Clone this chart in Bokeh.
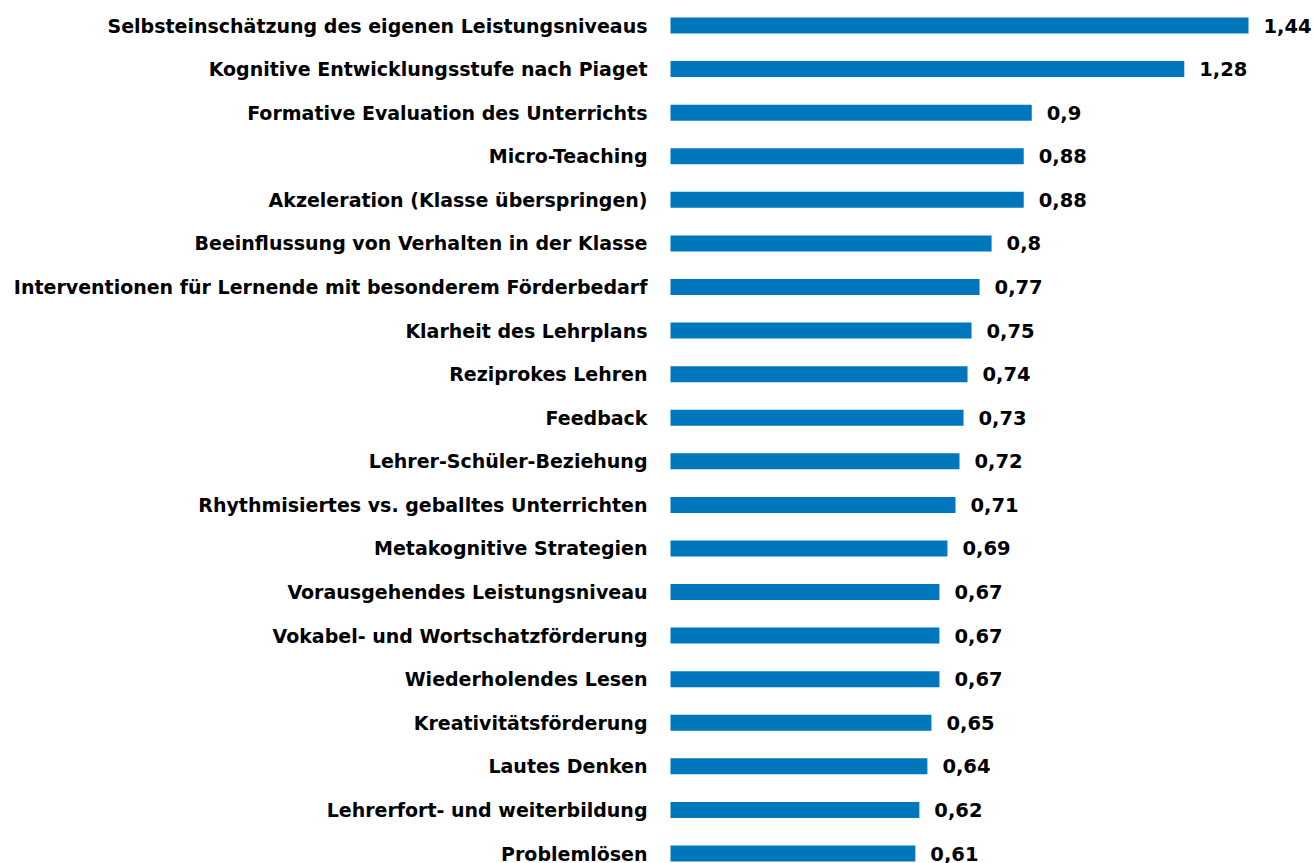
from bokeh.plotting import figure
from bokeh.models import Range1d, ColumnDataSource
from bokeh.core.properties import value
from bokeh.embed import file_html
from bokeh.resources import INLINE

categories = [
    "Selbsteinschätzung des eigenen Leistungsniveaus",
    "Kognitive Entwicklungsstufe nach Piaget",
    "Formative Evaluation des Unterrichts",
    "Micro-Teaching",
    "Akzeleration (Klasse überspringen)",
    "Beeinflussung von Verhalten in der Klasse",
    "Interventionen für Lernende mit besonderem Förderbedarf",
    "Klarheit des Lehrplans",
    "Reziprokes Lehren",
    "Feedback",
    "Lehrer-Schüler-Beziehung",
    "Rhythmisiertes vs. geballtes Unterrichten",
    "Metakognitive Strategien",
    "Vorausgehendes Leistungsniveau",
    "Vokabel- und Wortschatzförderung",
    "Wiederholendes Lesen",
    "Kreativitätsförderung",
    "Lautes Denken",
    "Lehrerfort- und weiterbildung",
    "Problemlösen",
]
values = [1.44, 1.28, 0.9, 0.88, 0.88, 0.8, 0.77, 0.75, 0.74, 0.73,
          0.72, 0.71, 0.69, 0.67, 0.67, 0.67, 0.65, 0.64, 0.62, 0.61]
value_labels = [("%g" % v).replace(".", ",") for v in values]

positions = list(range(len(categories)))
src = ColumnDataSource(dict(y=positions, v=values, cat=categories, lab=value_labels,
                            zero=[0] * len(values)))

W, H = 1314, 863
px_per_unit = 578 / 1.44
x0_screen = 670
row_px = 43.58
y0_screen = 25

x_start = -x0_screen / px_per_unit
x_end = (W - x0_screen) / px_per_unit
y_top = -y0_screen / row_px
y_bot = (H - y0_screen) / row_px

p = figure(width=W, height=H, output_backend="svg", toolbar_location=None,
           x_range=Range1d(x_start, x_end), y_range=Range1d(y_bot, y_top),
           min_border=0, min_border_left=0, min_border_right=0,
           min_border_top=0, min_border_bottom=0)
p.axis.visible = False
p.grid.visible = False
p.outline_line_color = None
p.background_fill_color = "white"
p.border_fill_color = "white"

p.hbar(y="y", left="zero", right="v", height=16 / row_px, source=src,
       fill_color="#0077BD", line_color=None)

FONT = "DejaVu Sans"
p.text(x="zero", y="y", text="cat", source=src, x_offset=-23,
       text_align="right", text_baseline="middle", text_font=value(FONT),
       text_font_style="bold", text_font_size="19px", text_color="#000000")
p.text(x="v", y="y", text="lab", source=src, x_offset=15,
       text_align="left", text_baseline="middle", text_font=value(FONT),
       text_font_style="bold", text_font_size="19.5px", text_color="#000000")

open("out.html", "w").write(file_html(p, INLINE))
